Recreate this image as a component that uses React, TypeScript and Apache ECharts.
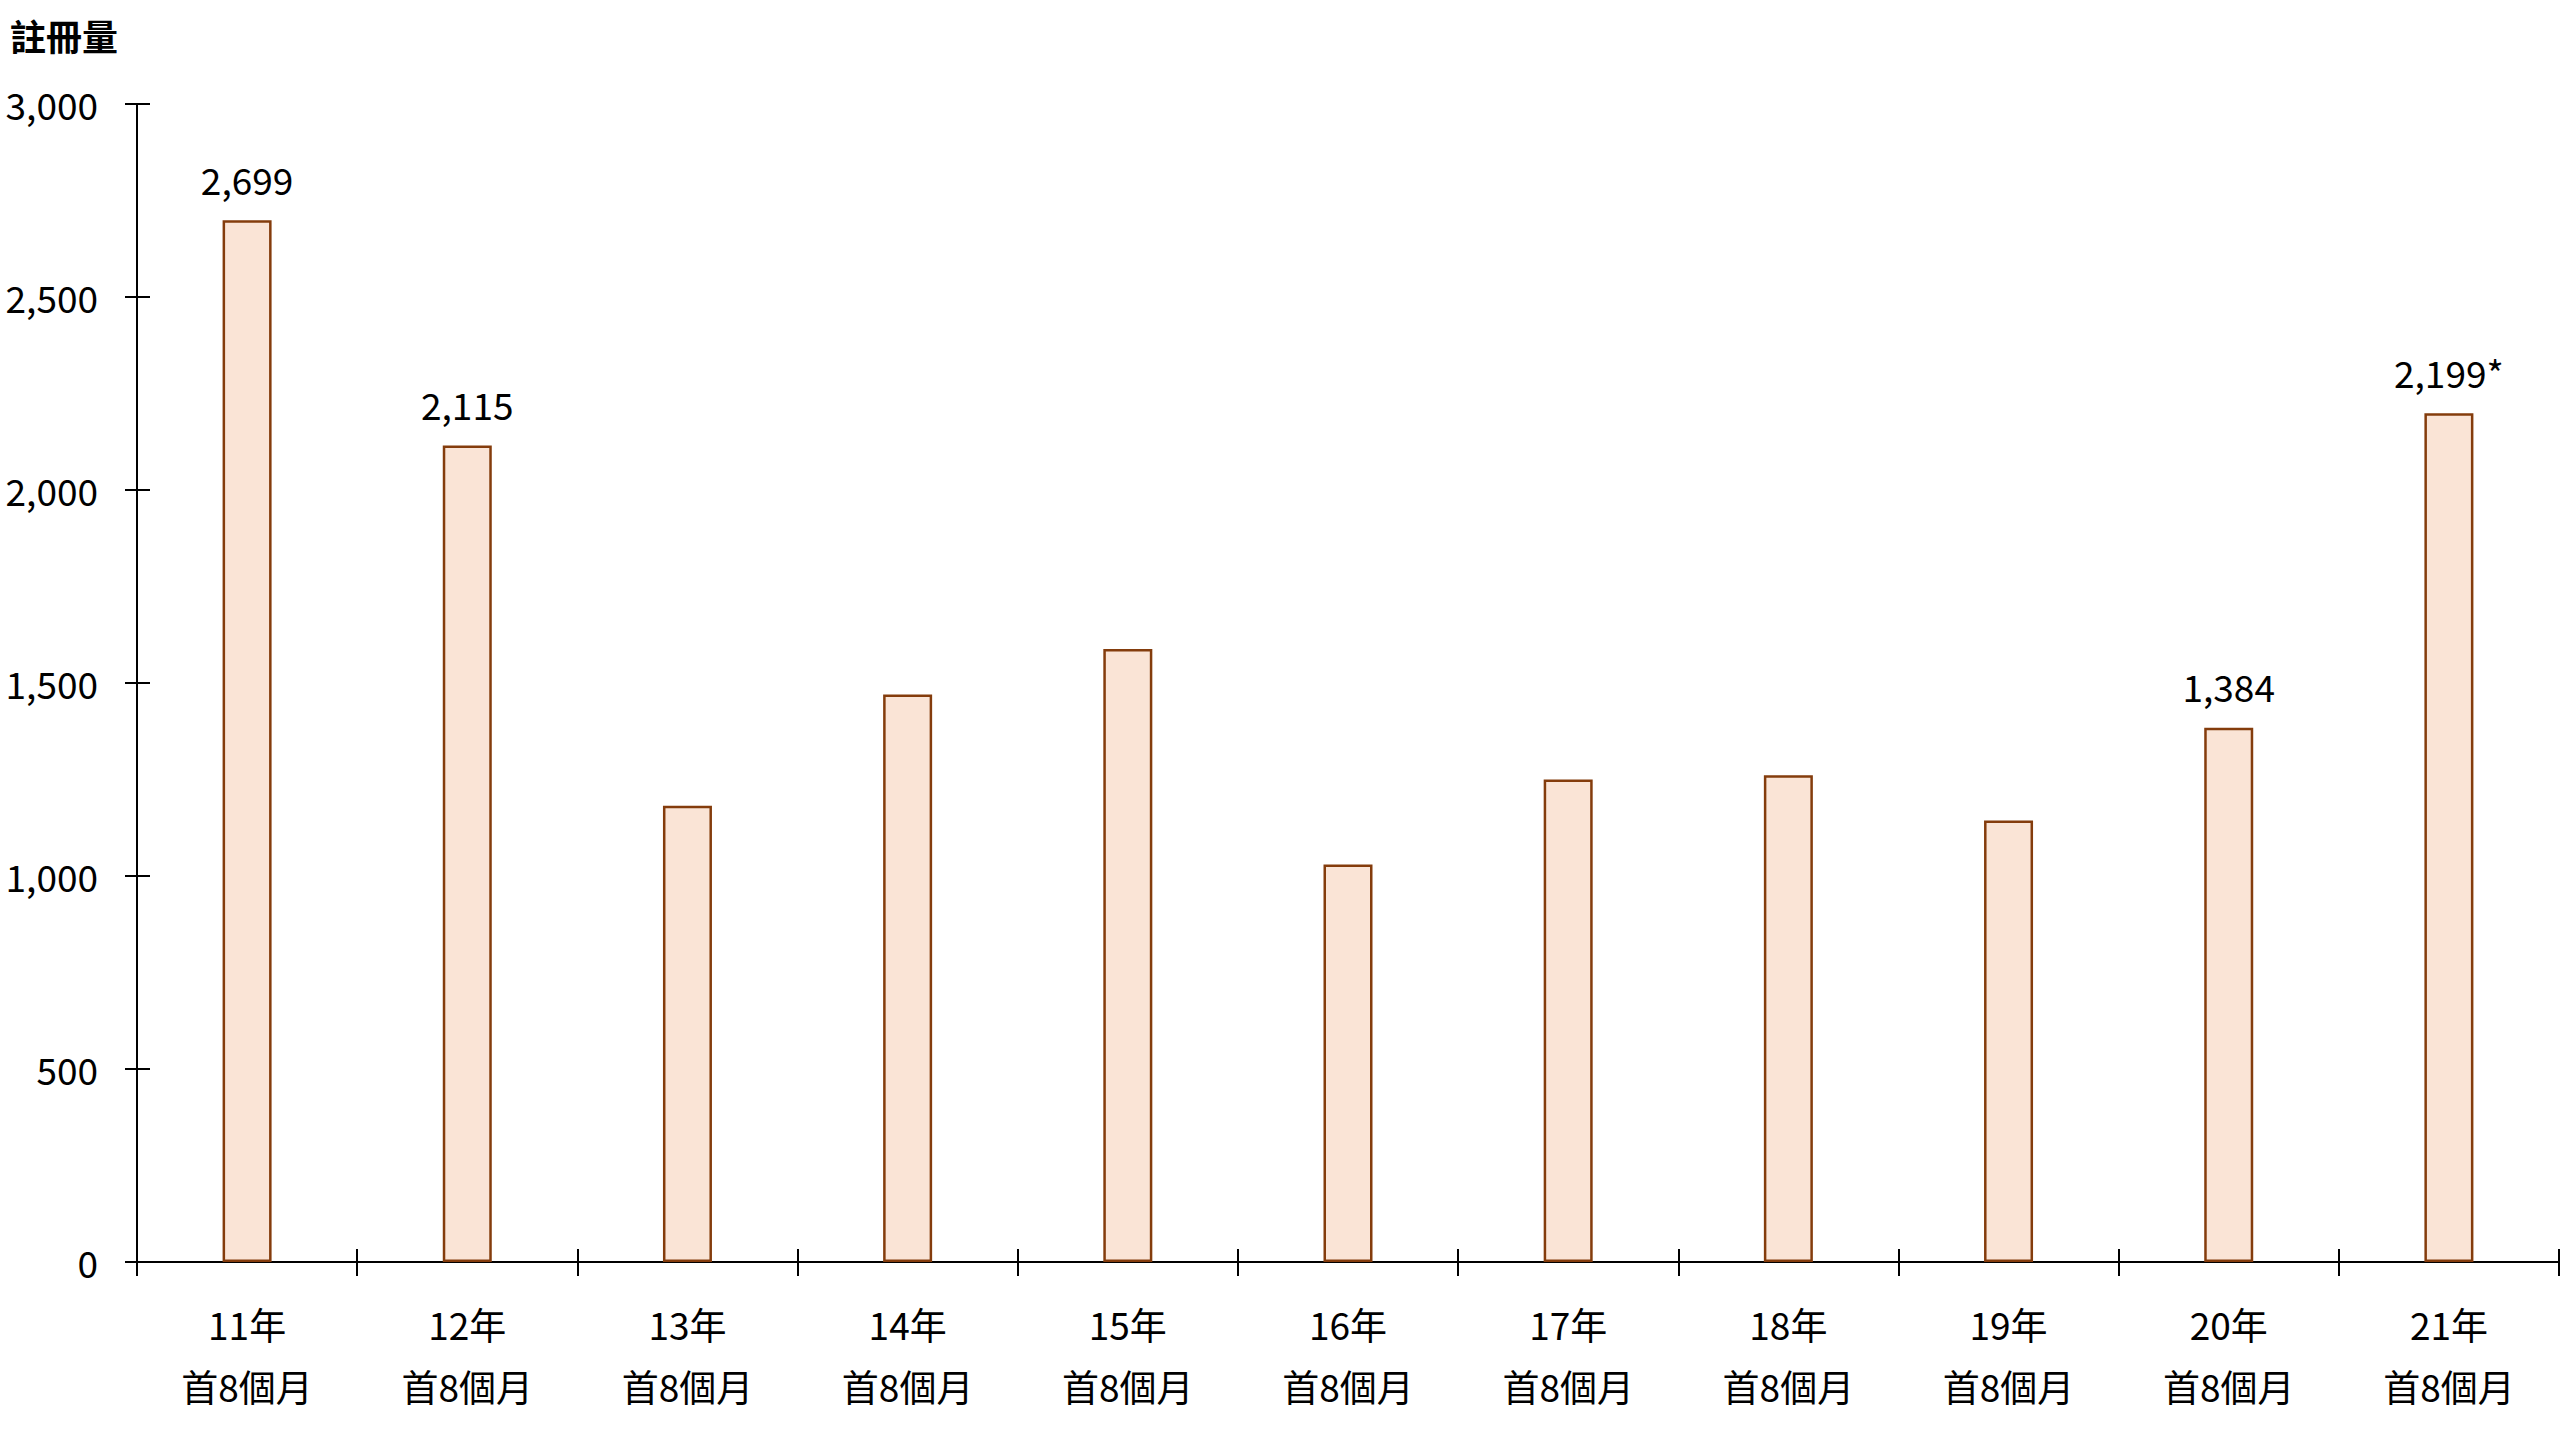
import React, { useEffect, useRef } from "react";
import * as echarts from "echarts";

const years = ["11年", "12年", "13年", "14年", "15年", "16年", "17年", "18年", "19年", "20年", "21年"];
const periodNote = "首8個月";
const registrations = [2699, 2115, 1182, 1470, 1588, 1030, 1250, 1261, 1144, 1384, 2199];
const labelledYears = ["11年", "12年", "20年", "21年"];
const labelSuffix: Record<string, string> = { "21年": "*" };
const yTicks = { min: 0, max: 3000, interval: 500 };
const yAxisTitle = "註冊量";

const FONT = "'Noto Sans CJK TC', 'Noto Sans', sans-serif";

export default function App() {
  const ref = useRef<HTMLDivElement>(null);

  useEffect(() => {
    document.body.style.margin = "0";
    if (!ref.current) return;
    const chart = echarts.init(ref.current, undefined, { renderer: "svg" });
    const categories = years.map((y) => `${y}\n${periodNote}`);
    const fmt = (v: number) => v.toLocaleString("en-US");

    const data = registrations.map((v, i) => {
      const y = years[i];
      const show = labelledYears.includes(y);
      return {
        value: v,
        label: {
          show,
          formatter: () => fmt(v) + (labelSuffix[y] || ""),
        },
      };
    });

    chart.setOption({
      animation: false,
      backgroundColor: "#ffffff",
      textStyle: { fontFamily: FONT },
      graphic: [
        {
          type: "text",
          left: 10,
          top: 17,
          style: {
            text: yAxisTitle,
            fontFamily: FONT,
            fontSize: 36,
            fontWeight: "bold",
            fill: "#000000",
          },
        },
      ],
      grid: { left: 137, right: 1, top: 104, bottom: 178, containLabel: false },
      xAxis: [
        {
          type: "category",
          data: categories,
          position: "bottom",
          boundaryGap: true,
          axisLine: { show: true, lineStyle: { color: "#000000", width: 2 } },
          axisTick: { show: true, inside: false, length: 14, alignWithLabel: false, lineStyle: { color: "#000000", width: 2 } },
          axisLabel: {
            show: true,
            margin: 31,
            fontFamily: FONT,
            fontSize: 37,
            lineHeight: 62,
            color: "#000000",
            interval: 0,
          },
          splitLine: { show: false },
        },
        {
          type: "category",
          data: categories,
          position: "bottom",
          boundaryGap: true,
          axisLine: { show: false },
          axisTick: { show: true, inside: true, length: 13, lineStyle: { color: "#000000", width: 2 } },
          axisLabel: { show: false },
          splitLine: { show: false },
        },
      ],
      yAxis: [
        {
          type: "value",
          position: "left",
          min: yTicks.min,
          max: yTicks.max,
          interval: yTicks.interval,
          axisLine: { show: true, lineStyle: { color: "#000000", width: 2 } },
          axisTick: { show: true, inside: false, length: 12, lineStyle: { color: "#000000", width: 2 } },
          axisLabel: {
            show: true,
            margin: 39,
            fontFamily: FONT,
            fontSize: 37,
            color: "#000000",
            formatter: (v: number) => fmt(v),
          },
          splitLine: { show: false },
        },
        {
          type: "value",
          position: "left",
          offset: 0,
          min: yTicks.min,
          max: yTicks.max,
          interval: yTicks.interval,
          axisLine: { show: false },
          axisTick: { show: true, inside: true, length: 13, lineStyle: { color: "#000000", width: 2 } },
          axisLabel: { show: false },
          splitLine: { show: false },
        },
      ],
      series: [
        {
          type: "bar",
          xAxisIndex: 0,
          yAxisIndex: 0,
          data,
          barWidth: 49,
          itemStyle: { color: "#FAE4D6", borderColor: "#843C0C", borderWidth: 2.5 },
          label: {
            position: "top",
            distance: 23,
            fontFamily: FONT,
            fontSize: 37,
            color: "#000000",
          },
        },
      ],
    });

    return () => chart.dispose();
  }, []);

  return <div ref={ref} style={{ width: 2560, height: 1440 }} />;
}
